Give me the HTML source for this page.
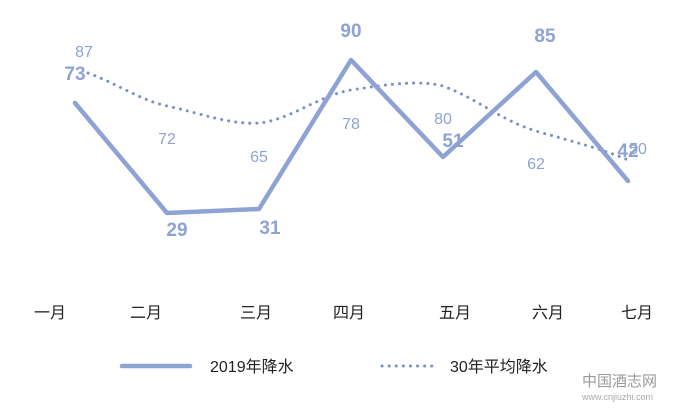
<!DOCTYPE html>
<html><head><meta charset="utf-8"><style>
html,body{margin:0;padding:0;background:#fff;}
svg text{font-family:"Liberation Sans","Noto Sans CJK SC",sans-serif;}
</style></head><body>
<svg width="680" height="405" viewBox="0 0 680 405" xmlns="http://www.w3.org/2000/svg">
<rect width="680" height="405" fill="#fff"/>
<path d="M88,73 C120,85 140,100 167,106 C200,113 230,125 259,123 C290,120 320,95 351,90 C390,84 420,80 443,86 C480,100 500,120 536,131 C570,141 600,148 628,160" fill="none" stroke="#7b91c4" stroke-width="3" stroke-dasharray="0.1 7" stroke-linecap="round"/>
<polyline points="75,103 167,213 259,209 351,60 443,157 536,72 628,181" fill="none" stroke="#8ea3d4" stroke-width="4.5" stroke-linejoin="round" stroke-linecap="round"/>
<g fill="#8ea3d4" font-size="16">
<text x="84" y="57" text-anchor="middle">87</text>
<text x="167" y="144" text-anchor="middle">72</text>
<text x="259" y="162" text-anchor="middle">65</text>
<text x="351" y="129" text-anchor="middle">78</text>
<text x="443" y="124" text-anchor="middle">80</text>
<text x="536" y="169" text-anchor="middle">62</text>
<text x="638" y="154" text-anchor="middle">50</text>
</g>
<g fill="#8ea3d4" font-size="19" font-weight="bold">
<text x="75" y="80" text-anchor="middle">73</text>
<text x="177" y="236" text-anchor="middle">29</text>
<text x="270" y="234" text-anchor="middle">31</text>
<text x="351" y="37" text-anchor="middle">90</text>
<text x="453" y="147" text-anchor="middle">51</text>
<text x="545" y="42" text-anchor="middle">85</text>
<text x="628" y="157" text-anchor="middle">42</text>
</g>
<g fill="#222" font-size="16" text-anchor="middle">
<text x="50" y="318">一月</text>
<text x="146" y="318">二月</text>
<text x="256" y="318">三月</text>
<text x="349" y="318">四月</text>
<text x="455" y="318">五月</text>
<text x="548" y="318">六月</text>
<text x="637" y="318">七月</text>
</g>
<line x1="122" y1="366" x2="190" y2="366" stroke="#8ea3d4" stroke-width="4.5" stroke-linecap="round"/>
<text x="210" y="372" font-size="16" fill="#222">2019年降水</text>
<line x1="382" y1="366" x2="436" y2="366" stroke="#7b91c4" stroke-width="3" stroke-dasharray="0.1 7" stroke-linecap="round"/>
<text x="450" y="372" font-size="16" fill="#222">30年平均降水</text>
<text x="582" y="386" font-size="15" fill="#999" font-family="'Noto Serif CJK SC',serif">中国酒志网</text>
<text x="582" y="400" font-size="9" fill="#aaa">www.cnjiuzhi.com</text>
</svg>
</body></html>
